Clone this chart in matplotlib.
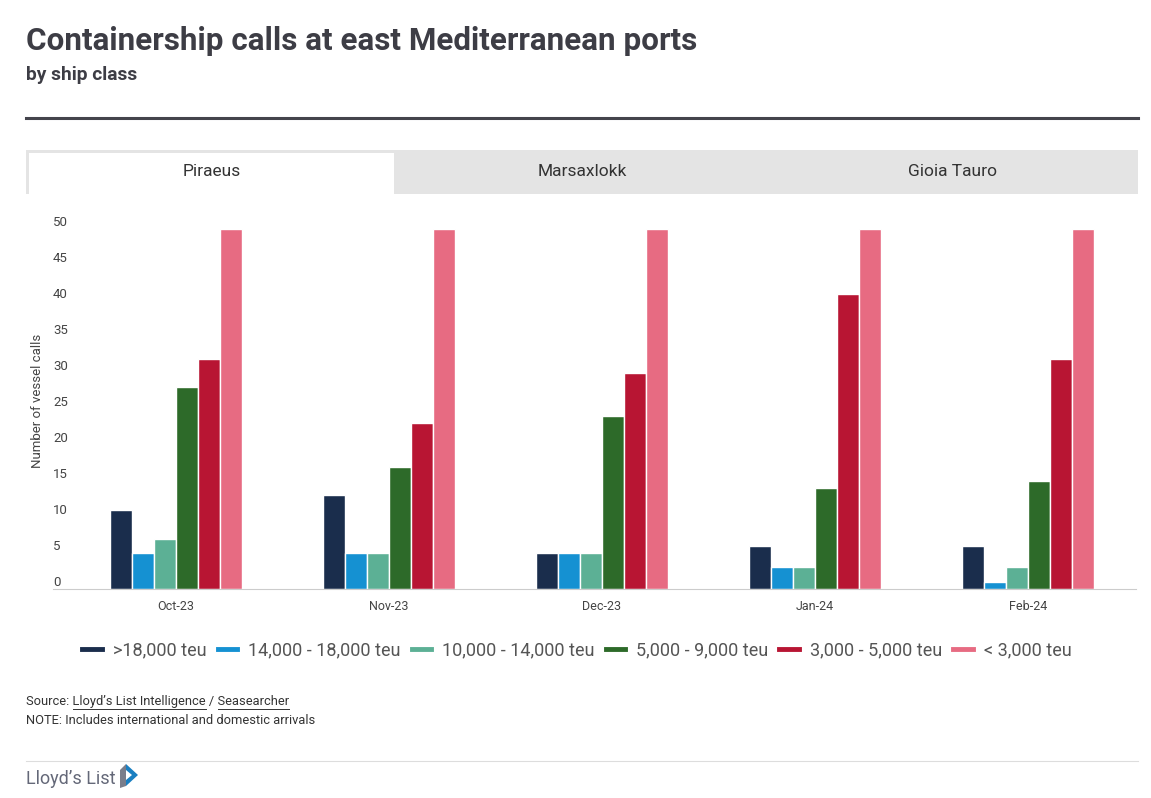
import matplotlib
matplotlib.use("Agg")
import matplotlib.pyplot as plt
import numpy as np
from matplotlib.lines import Line2D
from matplotlib.patches import Rectangle, Polygon
from matplotlib.transforms import ScaledTranslation

plt.rcParams['font.family'] = ['Roboto', 'DejaVu Sans']

# data (Piraeus tab)
months = ['Oct-23', 'Nov-23', 'Dec-23', 'Jan-24', 'Feb-24']
classes = ['>18,000 teu', '14,000 - 18,000 teu', '10,000 - 14,000 teu',
           '5,000 - 9,000 teu', '3,000 - 5,000 teu', '< 3,000 teu']
over_18k = [11, 13, 5, 6, 6]
k14_18 = [5, 5, 5, 3, 1]
k10_14 = [7, 5, 5, 3, 3]
k5_9 = [28, 17, 24, 14, 15]
k3_5 = [32, 23, 30, 41, 32]
under_3k = [50, 50, 50, 50, 50]   # clipped at axis top
series = [over_18k, k14_18, k10_14, k5_9, k3_5, under_3k]
colors = ['#1a2d4c', '#1591d2', '#5cb095', '#2d6a29', '#b81533', '#e76b82']
tabs = ['Piraeus', 'Marsaxlokk', 'Gioia Tauro']

W, H = 1151, 798
fig = plt.figure(figsize=(W / 100, H / 100), dpi=100)
fig.patch.set_facecolor('white')

def fx(x):
    return x / W

def fy(y):
    return 1 - y / H

# header
fig.text(fx(26), fy(41), 'Containership calls at east Mediterranean ports',
         fontsize=22.6, fontweight='bold', color='#3d3d45', va='center', ha='left')
fig.text(fx(26), fy(75), 'by ship class', fontsize=13.8, fontweight='bold',
         color='#3d3d45', va='center', ha='left')
fig.add_artist(Line2D([fx(26), fx(1138)], [fy(118), fy(118)], color='#44444c', lw=2.2))

# tabs
fig.add_artist(Rectangle((fx(26), fy(194)), fx(1112), 44 / H, color='#e4e4e4', lw=0))
fig.add_artist(Rectangle((fx(29), fy(194)), fx(365), 41 / H, color='white', lw=0))
tab_w = 1112 / 3
for i, t in enumerate(tabs):
    fig.text(fx(26 + tab_w * (i + 0.5)), fy(172), t, fontsize=12.5, color='#333333',
             ha='center', va='center')

# chart
ax = fig.add_axes([fx(53), fy(589), fx(1083), 360 / H])
x = np.arange(len(months))
bw = 0.1033
for i, (vals, c) in enumerate(zip(series, colors)):
    ax.bar(x + (i - 2.5) * bw, vals, width=bw, color=c, edgecolor='white',
           linewidth=1.0, label=classes[i], zorder=2)

ax.set_xlim(-0.577, 4.507)
ax.set_ylim(0, 50)
ax.set_xticks(x)
ax.set_xticklabels(months, fontsize=9, color='#444444')
ax.set_yticks(np.arange(0, 51, 5))
ax.tick_params(axis='x', length=0, pad=8)
ax.tick_params(axis='y', length=0, pad=0, labelsize=9.5, labelcolor='#444444')
for lab in ax.get_yticklabels():
    lab.set_ha('left')
    lab.set_transform(lab.get_transform() + ScaledTranslation(0, 0.085, fig.dpi_scale_trans))
for s in ['top', 'right', 'left']:
    ax.spines[s].set_visible(False)
ax.spines['bottom'].set_color('#cccccc')
ax.spines['bottom'].set_zorder(3)
ax.set_facecolor('none')

fig.text(fx(38), fy(401), 'Number of vessel calls', rotation=90, fontsize=9.5,
         color='#444444', ha='center', va='center')

# legend
handles = [Line2D([], [], color=c, lw=3.5) for c in colors]
fig.legend(handles, classes, loc='center', bbox_to_anchor=(fx(577), fy(650)),
           ncol=6, frameon=False, fontsize=13, labelcolor='#555555',
           handlelength=1.1, handletextpad=0.6, columnspacing=0.6)

# footer with underlined links
source = 'Source: Lloyd\u2019s List Intelligence / Seasearcher'
links = ['Lloyd\u2019s List Intelligence', 'Seasearcher']
fs = 9.3
src = fig.text(fx(26), fy(702), source, fontsize=fs, color='#333333', ha='left', va='center')
fig.canvas.draw()
r = fig.canvas.get_renderer()
for ln in links:
    start = source.index(ln)
    probe = fig.text(0, 0, source[:start] + '|', fontsize=fs)
    bar_w = fig.text(0, 0, '|', fontsize=fs)
    x0 = 26 + probe.get_window_extent(r).width - bar_w.get_window_extent(r).width
    probe.set_text(ln + '|')
    x1 = x0 + probe.get_window_extent(r).width - bar_w.get_window_extent(r).width
    probe.remove()
    bar_w.remove()
    fig.add_artist(Line2D([fx(x0), fx(x1)], [fy(709), fy(709)], color='#333333', lw=0.7))
fig.text(fx(26), fy(720), 'NOTE: Includes international and domestic arrivals', fontsize=fs,
         color='#333333', ha='left', va='center')

fig.add_artist(Line2D([fx(26), fx(1138)], [fy(761), fy(761)], color='#dddddd', lw=0.8))
fig.text(fx(26), fy(779), 'Lloyd\u2019s List', fontsize=13, color='#646878', ha='left', va='center')
# small logo mark
fig.add_artist(Polygon([(fx(120), fy(770)), (fx(126), fy(764)), (fx(126), fy(786)), (fx(120), fy(788))],
                       closed=True, color='#7a7d8a', lw=0))
fig.add_artist(Polygon([(fx(126), fy(764)), (fx(138), fy(775)), (fx(126), fy(786)), (fx(126), fy(780)),
                        (fx(132), fy(775)), (fx(126), fy(770))], closed=True, color='#1a7fc1', lw=0))

fig.savefig('out.png', dpi=100)
